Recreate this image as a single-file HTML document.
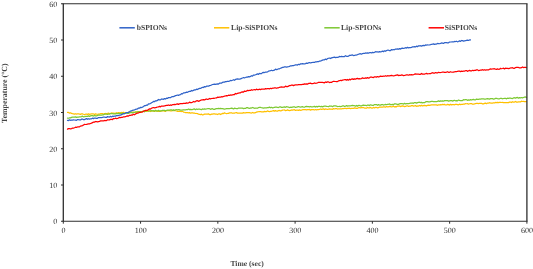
<!DOCTYPE html>
<html><head><meta charset="utf-8"><title>Temperature vs Time</title>
<style>html,body{margin:0;padding:0;background:#fff}body{width:533px;height:269px;overflow:hidden}</style></head>
<body>
<svg width="533" height="269" viewBox="0 0 533 269" style="display:block">
<rect width="533" height="269" fill="#fff"/>
<polyline fill="none" stroke="#FFC000" stroke-width="1.25" stroke-linejoin="round" stroke-linecap="round" points="67.5,112.44 68.5,112.47 69.5,113.10 70.5,112.77 71.5,113.41 72.5,113.67 73.5,113.80 74.5,114.19 75.5,113.75 76.5,114.09 77.5,113.75 78.5,113.75 79.5,114.03 80.5,114.40 81.5,113.78 82.5,113.88 83.5,114.25 84.5,114.55 85.5,114.23 86.5,114.07 87.5,114.60 88.5,113.78 89.5,114.52 90.5,114.01 91.5,113.87 92.5,113.83 93.5,113.99 94.5,114.44 95.5,113.86 96.5,114.21 97.5,114.25 98.5,114.00 99.5,114.15 100.5,113.71 101.5,113.61 102.5,113.66 103.5,114.00 104.5,113.68 105.5,113.49 106.5,113.64 107.5,113.44 108.5,113.21 109.5,113.56 110.5,113.43 111.5,112.97 112.5,113.22 113.5,113.12 114.5,113.39 115.5,113.21 116.5,112.77 117.5,113.35 118.5,112.54 119.5,112.77 120.5,113.03 121.5,112.45 122.5,112.71 123.5,112.25 124.5,112.75 125.5,112.77 126.5,112.53 127.5,112.74 128.5,112.17 129.5,112.45 130.5,112.31 131.5,112.25 132.5,112.09 133.5,112.38 134.5,112.43 135.5,111.94 136.5,112.05 137.5,111.45 138.5,111.96 139.5,111.85 140.5,112.09 141.5,111.88 142.5,111.36 143.5,111.42 144.5,111.64 145.5,111.02 146.5,111.38 147.5,111.08 148.5,111.00 149.5,110.91 150.5,111.51 151.5,110.90 152.5,110.97 153.5,111.08 154.5,111.48 155.5,110.74 156.5,111.05 157.5,111.11 158.5,111.39 159.5,111.30 160.5,111.32 161.5,110.76 162.5,110.86 163.5,110.78 164.5,111.24 165.5,111.30 166.5,110.56 167.5,110.58 168.5,110.62 169.5,110.61 170.5,110.83 171.5,110.91 172.5,110.61 173.5,110.37 174.5,110.73 175.5,110.73 176.5,110.99 177.5,111.43 178.5,111.28 179.5,111.21 180.5,111.39 181.5,111.53 182.5,111.15 183.5,112.13 184.5,112.25 185.5,112.55 186.5,112.70 187.5,112.56 188.5,112.79 189.5,112.64 190.5,113.22 191.5,112.81 192.5,112.92 193.5,113.15 194.5,113.21 195.5,113.50 196.5,113.49 197.5,113.69 198.5,114.07 199.5,114.27 200.5,114.54 201.5,114.18 202.5,114.89 203.5,114.60 204.5,114.12 205.5,114.16 206.5,114.19 207.5,114.15 208.5,113.88 209.5,114.52 210.5,114.66 211.5,114.19 212.5,114.21 213.5,113.86 214.5,113.88 215.5,114.10 216.5,114.04 217.5,114.55 218.5,113.95 219.5,113.84 220.5,114.58 221.5,113.98 222.5,113.41 223.5,113.54 224.5,112.85 225.5,113.25 226.5,113.62 227.5,113.49 228.5,113.31 229.5,112.89 230.5,112.96 231.5,112.75 232.5,113.26 233.5,113.01 234.5,113.19 235.5,112.75 236.5,112.62 237.5,113.12 238.5,113.24 239.5,113.08 240.5,113.05 241.5,113.11 242.5,113.09 243.5,112.68 244.5,112.99 245.5,112.89 246.5,112.65 247.5,112.59 248.5,112.72 249.5,112.61 250.5,112.90 251.5,113.05 252.5,112.49 253.5,112.84 254.5,112.79 255.5,112.66 256.5,112.03 257.5,111.81 258.5,111.72 259.5,111.60 260.5,111.51 261.5,111.79 262.5,111.94 263.5,111.83 264.5,111.44 265.5,111.54 266.5,111.61 267.5,110.91 268.5,111.37 269.5,111.53 270.5,111.36 271.5,111.27 272.5,110.97 273.5,110.64 274.5,111.13 275.5,110.66 276.5,111.02 277.5,111.12 278.5,110.54 279.5,110.48 280.5,110.92 281.5,110.66 282.5,110.10 283.5,110.00 284.5,109.96 285.5,110.60 286.5,110.50 287.5,109.88 288.5,110.48 289.5,110.60 290.5,110.29 291.5,109.99 292.5,110.15 293.5,109.76 294.5,109.64 295.5,110.48 296.5,110.17 297.5,110.04 298.5,110.39 299.5,109.92 300.5,110.30 301.5,110.24 302.5,109.67 303.5,109.69 304.5,109.70 305.5,109.64 306.5,109.93 307.5,109.62 308.5,109.73 309.5,109.44 310.5,110.11 311.5,109.58 312.5,109.64 313.5,109.72 314.5,109.98 315.5,109.51 316.5,109.93 317.5,109.52 318.5,109.52 319.5,109.48 320.5,108.99 321.5,109.34 322.5,109.08 323.5,108.88 324.5,109.57 325.5,108.97 326.5,109.21 327.5,109.41 328.5,109.22 329.5,108.98 330.5,109.12 331.5,109.11 332.5,109.27 333.5,108.61 334.5,108.98 335.5,108.65 336.5,108.63 337.5,109.03 338.5,108.75 339.5,108.75 340.5,108.89 341.5,108.98 342.5,108.51 343.5,108.62 344.5,108.48 345.5,108.44 346.5,108.55 347.5,108.29 348.5,108.32 349.5,108.23 350.5,108.60 351.5,108.34 352.5,108.45 353.5,108.49 354.5,107.85 355.5,108.10 356.5,108.42 357.5,108.31 358.5,107.66 359.5,107.62 360.5,107.89 361.5,107.54 362.5,107.67 363.5,107.50 364.5,108.01 365.5,108.09 366.5,108.18 367.5,107.49 368.5,107.97 369.5,107.90 370.5,107.41 371.5,108.06 372.5,108.12 373.5,107.39 374.5,107.99 375.5,107.44 376.5,107.47 377.5,107.87 378.5,107.67 379.5,107.01 380.5,107.20 381.5,107.22 382.5,107.01 383.5,106.83 384.5,106.88 385.5,107.19 386.5,106.51 387.5,106.93 388.5,106.78 389.5,106.34 390.5,106.57 391.5,106.78 392.5,106.63 393.5,106.17 394.5,106.94 395.5,106.73 396.5,106.86 397.5,106.06 398.5,106.17 399.5,105.94 400.5,106.58 401.5,106.10 402.5,105.94 403.5,106.18 404.5,106.59 405.5,106.48 406.5,105.95 407.5,105.83 408.5,106.49 409.5,106.15 410.5,106.24 411.5,105.66 412.5,105.61 413.5,106.15 414.5,105.88 415.5,105.54 416.5,106.29 417.5,105.99 418.5,106.10 419.5,105.42 420.5,106.07 421.5,105.32 422.5,105.99 423.5,105.59 424.5,105.44 425.5,105.59 426.5,105.89 427.5,105.26 428.5,105.09 429.5,105.41 430.5,105.11 431.5,104.95 432.5,104.96 433.5,104.82 434.5,104.91 435.5,104.97 436.5,104.92 437.5,105.29 438.5,104.83 439.5,104.98 440.5,104.65 441.5,104.77 442.5,104.44 443.5,104.62 444.5,104.38 445.5,104.99 446.5,104.80 447.5,104.44 448.5,104.66 449.5,105.05 450.5,104.27 451.5,104.88 452.5,104.50 453.5,104.52 454.5,104.80 455.5,104.37 456.5,104.44 457.5,104.57 458.5,104.80 459.5,104.20 460.5,104.61 461.5,104.46 462.5,104.37 463.5,104.12 464.5,104.03 465.5,103.72 466.5,103.75 467.5,103.66 468.5,104.22 469.5,103.75 470.5,103.63 471.5,103.52 472.5,104.16 473.5,104.14 474.5,103.92 475.5,103.53 476.5,103.46 477.5,103.47 478.5,103.58 479.5,103.26 480.5,103.48 481.5,103.28 482.5,103.87 483.5,103.84 484.5,103.41 485.5,103.10 486.5,103.71 487.5,103.08 488.5,103.08 489.5,102.72 490.5,103.02 491.5,103.06 492.5,103.05 493.5,102.74 494.5,102.97 495.5,102.48 496.5,102.67 497.5,102.47 498.5,102.71 499.5,102.35 500.5,102.29 501.5,102.50 502.5,102.40 503.5,102.67 504.5,102.56 505.5,102.70 506.5,102.56 507.5,102.55 508.5,102.64 509.5,102.14 510.5,102.03 511.5,102.56 512.5,101.75 513.5,102.21 514.5,102.08 515.5,101.48 516.5,102.14 517.5,102.13 518.5,101.83 519.5,101.87 520.5,101.88 521.5,101.22 522.5,101.50 523.5,101.43 524.5,101.67 525.5,101.58 526.5,101.54"/>
<polyline fill="none" stroke="#7DC832" stroke-width="1.25" stroke-linejoin="round" stroke-linecap="round" points="67.5,118.08 68.5,118.25 69.5,117.95 70.5,117.85 71.5,117.33 72.5,117.04 73.5,117.03 74.5,117.13 75.5,116.80 76.5,117.38 77.5,117.05 78.5,117.03 79.5,116.95 80.5,116.92 81.5,116.67 82.5,116.15 83.5,116.81 84.5,116.72 85.5,116.44 86.5,116.42 87.5,116.48 88.5,115.89 89.5,116.44 90.5,115.92 91.5,115.66 92.5,115.72 93.5,116.03 94.5,115.45 95.5,115.83 96.5,115.93 97.5,115.39 98.5,115.17 99.5,115.14 100.5,115.21 101.5,115.16 102.5,114.91 103.5,114.81 104.5,114.18 105.5,114.14 106.5,114.14 107.5,114.49 108.5,114.00 109.5,114.15 110.5,113.56 111.5,113.51 112.5,113.60 113.5,113.92 114.5,113.90 115.5,113.84 116.5,113.45 117.5,113.61 118.5,113.52 119.5,113.48 120.5,113.11 121.5,113.74 122.5,113.05 123.5,113.69 124.5,113.59 125.5,112.69 126.5,113.03 127.5,113.29 128.5,113.34 129.5,112.79 130.5,112.55 131.5,112.42 132.5,113.00 133.5,112.26 134.5,112.51 135.5,112.00 136.5,112.18 137.5,112.41 138.5,111.51 139.5,111.97 140.5,111.53 141.5,111.74 142.5,111.53 143.5,111.06 144.5,111.62 145.5,111.20 146.5,110.74 147.5,110.68 148.5,111.07 149.5,110.99 150.5,110.81 151.5,110.62 152.5,110.76 153.5,110.70 154.5,111.14 155.5,110.35 156.5,110.98 157.5,111.03 158.5,110.35 159.5,111.04 160.5,110.81 161.5,110.94 162.5,110.36 163.5,110.40 164.5,110.37 165.5,110.87 166.5,110.46 167.5,110.21 168.5,110.23 169.5,110.04 170.5,109.79 171.5,109.80 172.5,110.41 173.5,109.87 174.5,110.41 175.5,109.75 176.5,109.72 177.5,109.90 178.5,109.57 179.5,109.69 180.5,110.17 181.5,110.06 182.5,109.95 183.5,109.74 184.5,109.95 185.5,109.93 186.5,109.54 187.5,109.68 188.5,109.06 189.5,109.65 190.5,109.38 191.5,109.64 192.5,109.52 193.5,109.18 194.5,108.95 195.5,109.72 196.5,108.99 197.5,109.28 198.5,109.14 199.5,109.07 200.5,109.44 201.5,109.63 202.5,108.95 203.5,109.28 204.5,108.94 205.5,109.14 206.5,108.97 207.5,108.74 208.5,108.70 209.5,108.72 210.5,109.34 211.5,108.95 212.5,108.68 213.5,109.28 214.5,109.35 215.5,108.84 216.5,108.54 217.5,108.57 218.5,108.46 219.5,108.67 220.5,108.42 221.5,108.54 222.5,108.54 223.5,108.80 224.5,109.07 225.5,108.93 226.5,108.61 227.5,108.59 228.5,108.67 229.5,108.52 230.5,108.47 231.5,108.20 232.5,108.36 233.5,108.95 234.5,108.15 235.5,108.46 236.5,108.53 237.5,108.71 238.5,108.09 239.5,108.10 240.5,108.05 241.5,108.15 242.5,108.15 243.5,108.59 244.5,108.47 245.5,108.46 246.5,107.67 247.5,107.66 248.5,108.24 249.5,108.38 250.5,107.98 251.5,108.05 252.5,107.50 253.5,107.83 254.5,108.29 255.5,108.17 256.5,108.17 257.5,108.25 258.5,107.57 259.5,107.42 260.5,107.44 261.5,107.75 262.5,107.86 263.5,108.08 264.5,107.86 265.5,107.77 266.5,107.85 267.5,107.55 268.5,107.61 269.5,107.13 270.5,107.78 271.5,107.26 272.5,107.86 273.5,107.59 274.5,107.26 275.5,107.08 276.5,107.17 277.5,107.49 278.5,107.52 279.5,106.97 280.5,106.91 281.5,107.30 282.5,107.33 283.5,107.13 284.5,106.96 285.5,107.28 286.5,106.73 287.5,106.98 288.5,107.10 289.5,107.53 290.5,107.23 291.5,107.43 292.5,107.05 293.5,106.81 294.5,106.80 295.5,107.43 296.5,107.18 297.5,106.81 298.5,106.53 299.5,106.94 300.5,107.08 301.5,106.84 302.5,106.67 303.5,107.02 304.5,107.24 305.5,106.59 306.5,106.40 307.5,106.66 308.5,106.71 309.5,106.92 310.5,106.46 311.5,106.98 312.5,106.91 313.5,106.67 314.5,106.38 315.5,107.05 316.5,106.43 317.5,106.87 318.5,106.32 319.5,106.28 320.5,106.75 321.5,106.31 322.5,106.88 323.5,106.44 324.5,106.14 325.5,106.15 326.5,106.31 327.5,106.51 328.5,106.74 329.5,106.00 330.5,106.20 331.5,106.02 332.5,106.68 333.5,105.92 334.5,105.82 335.5,105.81 336.5,106.09 337.5,106.53 338.5,106.50 339.5,106.34 340.5,106.56 341.5,106.49 342.5,105.93 343.5,105.78 344.5,106.44 345.5,106.25 346.5,105.59 347.5,106.14 348.5,105.86 349.5,105.84 350.5,105.79 351.5,105.62 352.5,105.45 353.5,105.67 354.5,105.69 355.5,106.19 356.5,105.40 357.5,106.12 358.5,105.40 359.5,105.49 360.5,105.87 361.5,105.83 362.5,105.44 363.5,105.06 364.5,105.40 365.5,105.27 366.5,105.72 367.5,105.02 368.5,105.14 369.5,105.58 370.5,104.76 371.5,105.06 372.5,105.38 373.5,105.30 374.5,104.61 375.5,104.56 376.5,104.55 377.5,105.28 378.5,104.64 379.5,105.04 380.5,105.14 381.5,104.60 382.5,104.50 383.5,105.07 384.5,104.73 385.5,104.37 386.5,104.73 387.5,104.33 388.5,104.26 389.5,103.97 390.5,104.61 391.5,104.71 392.5,104.42 393.5,104.66 394.5,103.79 395.5,103.93 396.5,104.08 397.5,104.46 398.5,104.39 399.5,103.82 400.5,103.64 401.5,103.73 402.5,103.73 403.5,104.06 404.5,103.33 405.5,103.82 406.5,103.70 407.5,103.72 408.5,103.61 409.5,103.40 410.5,103.08 411.5,103.02 412.5,102.99 413.5,103.31 414.5,102.61 415.5,102.66 416.5,103.10 417.5,102.58 418.5,102.33 419.5,102.22 420.5,102.60 421.5,102.32 422.5,102.82 423.5,102.65 424.5,102.66 425.5,101.93 426.5,101.68 427.5,101.61 428.5,101.89 429.5,101.99 430.5,101.67 431.5,101.40 432.5,101.48 433.5,101.58 434.5,101.54 435.5,101.52 436.5,101.57 437.5,101.37 438.5,100.84 439.5,101.45 440.5,100.91 441.5,101.12 442.5,100.91 443.5,101.19 444.5,100.67 445.5,100.67 446.5,100.63 447.5,100.51 448.5,101.13 449.5,100.81 450.5,100.54 451.5,100.57 452.5,101.06 453.5,100.59 454.5,100.30 455.5,100.78 456.5,100.60 457.5,100.86 458.5,100.02 459.5,100.30 460.5,100.55 461.5,100.52 462.5,100.53 463.5,99.69 464.5,99.87 465.5,99.66 466.5,99.67 467.5,100.32 468.5,99.92 469.5,100.18 470.5,99.62 471.5,100.01 472.5,99.58 473.5,99.36 474.5,99.77 475.5,99.87 476.5,99.06 477.5,99.45 478.5,99.42 479.5,99.00 480.5,99.09 481.5,98.85 482.5,98.88 483.5,98.90 484.5,99.19 485.5,99.21 486.5,98.78 487.5,98.58 488.5,98.83 489.5,99.12 490.5,98.65 491.5,98.74 492.5,98.62 493.5,99.12 494.5,98.87 495.5,98.41 496.5,98.42 497.5,98.66 498.5,98.77 499.5,98.82 500.5,98.30 501.5,98.34 502.5,98.79 503.5,98.50 504.5,98.33 505.5,98.30 506.5,98.83 507.5,98.20 508.5,98.37 509.5,98.13 510.5,98.13 511.5,98.48 512.5,98.55 513.5,97.92 514.5,97.72 515.5,98.14 516.5,97.62 517.5,97.39 518.5,98.14 519.5,97.66 520.5,97.96 521.5,97.53 522.5,97.91 523.5,97.48 524.5,97.15 525.5,96.97 526.5,97.39"/>
<polyline fill="none" stroke="#2F62C8" stroke-width="1.25" stroke-linejoin="round" stroke-linecap="round" points="67.5,120.33 68.5,120.57 69.5,119.83 70.5,120.31 71.5,120.08 72.5,120.20 73.5,119.88 74.5,120.00 75.5,120.15 76.5,120.38 77.5,119.51 78.5,119.72 79.5,119.87 80.5,119.93 81.5,119.16 82.5,119.01 83.5,119.66 84.5,119.60 85.5,119.07 86.5,118.60 87.5,119.30 88.5,118.73 89.5,119.11 90.5,118.76 91.5,118.85 92.5,118.16 93.5,118.63 94.5,118.03 95.5,118.10 96.5,118.41 97.5,118.30 98.5,117.61 99.5,117.53 100.5,117.59 101.5,117.59 102.5,117.36 103.5,117.02 104.5,117.03 105.5,117.36 106.5,117.42 107.5,116.56 108.5,116.93 109.5,117.02 110.5,116.28 111.5,116.91 112.5,116.17 113.5,116.42 114.5,116.20 115.5,116.10 116.5,115.63 117.5,115.55 118.5,115.52 119.5,115.21 120.5,115.15 121.5,114.60 122.5,114.23 123.5,113.50 124.5,113.68 125.5,113.21 126.5,112.62 127.5,112.74 128.5,112.37 129.5,111.69 130.5,111.05 131.5,110.93 132.5,110.27 133.5,110.02 134.5,110.00 135.5,109.31 136.5,109.23 137.5,108.90 138.5,108.08 139.5,108.23 140.5,107.34 141.5,107.53 142.5,107.18 143.5,106.54 144.5,105.73 145.5,105.74 146.5,105.11 147.5,105.09 148.5,103.82 149.5,103.93 150.5,103.52 151.5,102.75 152.5,102.28 153.5,101.34 154.5,101.66 155.5,100.83 156.5,100.87 157.5,100.44 158.5,99.46 159.5,99.90 160.5,99.90 161.5,99.00 162.5,99.13 163.5,99.37 164.5,98.61 165.5,99.02 166.5,98.20 167.5,98.43 168.5,97.56 169.5,97.63 170.5,97.74 171.5,96.84 172.5,96.63 173.5,96.59 174.5,96.17 175.5,95.61 176.5,95.40 177.5,95.03 178.5,95.38 179.5,94.81 180.5,94.66 181.5,93.66 182.5,93.87 183.5,92.92 184.5,92.95 185.5,92.70 186.5,92.12 187.5,92.29 188.5,91.72 189.5,91.45 190.5,91.43 191.5,90.45 192.5,90.96 193.5,90.34 194.5,89.84 195.5,89.92 196.5,89.15 197.5,89.51 198.5,88.84 199.5,88.35 200.5,88.42 201.5,87.83 202.5,87.29 203.5,87.50 204.5,86.58 205.5,86.97 206.5,86.17 207.5,86.21 208.5,86.23 209.5,85.63 210.5,85.50 211.5,84.98 212.5,84.50 213.5,84.32 214.5,84.22 215.5,84.44 216.5,84.07 217.5,83.94 218.5,84.08 219.5,83.19 220.5,83.05 221.5,83.18 222.5,82.35 223.5,82.08 224.5,82.14 225.5,81.66 226.5,81.63 227.5,81.25 228.5,81.32 229.5,81.07 230.5,80.46 231.5,80.59 232.5,80.25 233.5,79.74 234.5,80.26 235.5,79.43 236.5,79.14 237.5,78.88 238.5,79.17 239.5,79.17 240.5,78.89 241.5,78.34 242.5,78.01 243.5,77.54 244.5,77.86 245.5,77.53 246.5,77.09 247.5,77.11 248.5,76.68 249.5,76.87 250.5,76.44 251.5,75.75 252.5,76.06 253.5,75.02 254.5,75.18 255.5,74.79 256.5,74.36 257.5,73.93 258.5,74.30 259.5,73.34 260.5,73.55 261.5,73.62 262.5,72.63 263.5,72.42 264.5,72.53 265.5,72.19 266.5,72.05 267.5,71.95 268.5,71.12 269.5,70.98 270.5,70.72 271.5,70.23 272.5,70.73 273.5,70.38 274.5,70.06 275.5,69.17 276.5,69.66 277.5,69.31 278.5,68.80 279.5,68.79 280.5,68.27 281.5,67.81 282.5,67.44 283.5,67.30 284.5,66.86 285.5,66.90 286.5,67.07 287.5,66.82 288.5,66.75 289.5,66.43 290.5,65.83 291.5,65.88 292.5,65.58 293.5,65.69 294.5,65.25 295.5,64.81 296.5,64.96 297.5,65.09 298.5,64.26 299.5,64.70 300.5,63.76 301.5,63.83 302.5,63.65 303.5,63.95 304.5,63.97 305.5,63.63 306.5,63.10 307.5,63.44 308.5,62.78 309.5,62.54 310.5,62.98 311.5,62.57 312.5,62.47 313.5,62.29 314.5,62.41 315.5,61.79 316.5,61.96 317.5,61.68 318.5,61.66 319.5,61.05 320.5,61.03 321.5,60.63 322.5,60.12 323.5,59.76 324.5,59.86 325.5,59.10 326.5,59.58 327.5,58.62 328.5,58.24 329.5,58.04 330.5,58.56 331.5,57.88 332.5,57.55 333.5,57.29 334.5,57.15 335.5,57.59 336.5,57.38 337.5,57.29 338.5,57.17 339.5,56.42 340.5,56.74 341.5,56.39 342.5,56.69 343.5,56.59 344.5,56.55 345.5,55.71 346.5,56.33 347.5,56.26 348.5,56.19 349.5,55.33 350.5,55.32 351.5,55.13 352.5,54.96 353.5,55.54 354.5,55.34 355.5,55.02 356.5,55.03 357.5,54.69 358.5,54.22 359.5,53.89 360.5,53.73 361.5,54.16 362.5,53.53 363.5,53.49 364.5,53.45 365.5,52.94 366.5,53.02 367.5,52.90 368.5,53.15 369.5,52.70 370.5,52.52 371.5,52.96 372.5,52.40 373.5,52.62 374.5,52.31 375.5,51.69 376.5,51.93 377.5,51.86 378.5,52.06 379.5,51.58 380.5,51.81 381.5,51.56 382.5,51.17 383.5,51.66 384.5,50.81 385.5,51.30 386.5,50.55 387.5,50.22 388.5,50.23 389.5,50.57 390.5,50.59 391.5,49.55 392.5,49.82 393.5,49.65 394.5,49.75 395.5,49.05 396.5,49.20 397.5,48.94 398.5,49.25 399.5,48.61 400.5,49.09 401.5,48.37 402.5,48.18 403.5,48.49 404.5,48.18 405.5,47.70 406.5,48.04 407.5,47.40 408.5,47.89 409.5,47.67 410.5,47.61 411.5,47.32 412.5,46.93 413.5,46.83 414.5,46.68 415.5,46.99 416.5,46.12 417.5,46.70 418.5,45.78 419.5,45.80 420.5,45.71 421.5,46.14 422.5,45.64 423.5,45.38 424.5,45.69 425.5,44.96 426.5,45.03 427.5,44.95 428.5,45.00 429.5,44.88 430.5,44.67 431.5,44.28 432.5,44.15 433.5,43.88 434.5,44.38 435.5,44.10 436.5,44.06 437.5,43.43 438.5,43.55 439.5,43.74 440.5,43.45 441.5,42.94 442.5,43.13 443.5,43.41 444.5,42.72 445.5,42.57 446.5,42.56 447.5,42.82 448.5,42.83 449.5,42.11 450.5,42.00 451.5,41.98 452.5,41.91 453.5,41.95 454.5,41.49 455.5,41.51 456.5,41.25 457.5,41.82 458.5,41.47 459.5,40.77 460.5,41.41 461.5,40.50 462.5,40.62 463.5,41.09 464.5,40.86 465.5,40.74 466.5,40.41 467.5,40.14 468.5,40.47 469.5,39.93 470.5,39.96"/>
<polyline fill="none" stroke="#FF0000" stroke-width="1.25" stroke-linejoin="round" stroke-linecap="round" points="67.5,129.10 68.5,128.58 69.5,128.71 70.5,128.86 71.5,128.57 72.5,128.20 73.5,128.12 74.5,127.77 75.5,127.24 76.5,127.39 77.5,126.95 78.5,126.98 79.5,126.87 80.5,126.07 81.5,125.83 82.5,125.62 83.5,124.96 84.5,124.42 85.5,124.50 86.5,124.46 87.5,124.19 88.5,123.95 89.5,123.91 90.5,123.49 91.5,123.13 92.5,122.63 93.5,122.17 94.5,122.12 95.5,121.50 96.5,121.64 97.5,121.83 98.5,121.62 99.5,121.40 100.5,120.92 101.5,120.93 102.5,120.82 103.5,120.82 104.5,120.49 105.5,120.56 106.5,120.61 107.5,119.75 108.5,119.99 109.5,119.91 110.5,119.37 111.5,119.28 112.5,119.53 113.5,118.48 114.5,118.74 115.5,118.19 116.5,118.55 117.5,118.50 118.5,117.92 119.5,117.34 120.5,117.56 121.5,117.31 122.5,117.26 123.5,116.86 124.5,116.76 125.5,116.71 126.5,116.22 127.5,115.91 128.5,116.16 129.5,115.26 130.5,115.46 131.5,114.96 132.5,115.07 133.5,114.26 134.5,114.80 135.5,113.95 136.5,113.35 137.5,113.21 138.5,112.99 139.5,112.31 140.5,112.34 141.5,112.01 142.5,111.89 143.5,111.21 144.5,110.77 145.5,110.36 146.5,110.46 147.5,110.28 148.5,109.54 149.5,108.90 150.5,109.05 151.5,108.32 152.5,107.79 153.5,107.51 154.5,107.89 155.5,107.72 156.5,107.36 157.5,107.00 158.5,106.88 159.5,106.38 160.5,106.84 161.5,106.09 162.5,106.14 163.5,106.10 164.5,105.97 165.5,105.55 166.5,105.30 167.5,105.43 168.5,104.95 169.5,105.49 170.5,104.96 171.5,105.31 172.5,104.69 173.5,104.69 174.5,104.48 175.5,104.51 176.5,104.15 177.5,103.85 178.5,104.35 179.5,103.82 180.5,103.64 181.5,103.55 182.5,103.57 183.5,103.38 184.5,103.43 185.5,103.31 186.5,102.89 187.5,103.23 188.5,102.99 189.5,102.10 190.5,102.63 191.5,102.53 192.5,102.24 193.5,101.49 194.5,101.94 195.5,101.60 196.5,100.87 197.5,100.69 198.5,101.34 199.5,100.87 200.5,100.30 201.5,99.97 202.5,99.80 203.5,99.68 204.5,99.97 205.5,99.38 206.5,99.00 207.5,99.48 208.5,99.17 209.5,98.44 210.5,98.92 211.5,98.50 212.5,98.49 213.5,98.23 214.5,98.26 215.5,98.00 216.5,97.88 217.5,97.14 218.5,97.42 219.5,97.11 220.5,97.14 221.5,96.70 222.5,96.93 223.5,96.47 224.5,96.05 225.5,95.85 226.5,95.60 227.5,95.76 228.5,95.20 229.5,95.40 230.5,94.95 231.5,95.08 232.5,94.80 233.5,94.55 234.5,94.55 235.5,93.49 236.5,93.95 237.5,93.32 238.5,93.11 239.5,92.92 240.5,92.78 241.5,92.07 242.5,91.82 243.5,92.08 244.5,91.05 245.5,91.33 246.5,91.10 247.5,90.32 248.5,90.62 249.5,90.46 250.5,90.45 251.5,89.71 252.5,90.24 253.5,89.75 254.5,89.66 255.5,89.97 256.5,89.13 257.5,89.69 258.5,89.54 259.5,89.22 260.5,89.63 261.5,89.12 262.5,89.15 263.5,89.11 264.5,89.24 265.5,88.65 266.5,88.77 267.5,88.67 268.5,88.70 269.5,88.86 270.5,88.29 271.5,88.68 272.5,88.21 273.5,88.22 274.5,87.89 275.5,87.97 276.5,88.25 277.5,87.83 278.5,87.82 279.5,87.27 280.5,87.13 281.5,86.98 282.5,87.10 283.5,87.01 284.5,87.01 285.5,86.19 286.5,86.63 287.5,86.60 288.5,86.12 289.5,85.50 290.5,85.55 291.5,85.11 292.5,85.10 293.5,85.58 294.5,85.12 295.5,84.99 296.5,84.95 297.5,84.99 298.5,84.65 299.5,84.58 300.5,84.52 301.5,84.51 302.5,84.34 303.5,84.35 304.5,83.85 305.5,84.19 306.5,83.93 307.5,84.13 308.5,83.42 309.5,83.38 310.5,83.13 311.5,83.68 312.5,83.69 313.5,83.34 314.5,82.96 315.5,83.26 316.5,83.11 317.5,82.79 318.5,82.40 319.5,82.38 320.5,82.46 321.5,82.34 322.5,82.41 323.5,82.57 324.5,82.80 325.5,81.98 326.5,82.41 327.5,81.90 328.5,81.95 329.5,82.54 330.5,82.25 331.5,82.40 332.5,81.83 333.5,81.28 334.5,81.47 335.5,81.50 336.5,81.66 337.5,81.54 338.5,80.93 339.5,80.72 340.5,80.29 341.5,80.63 342.5,80.13 343.5,79.97 344.5,79.74 345.5,79.62 346.5,80.12 347.5,79.50 348.5,80.15 349.5,79.25 350.5,79.84 351.5,79.07 352.5,78.86 353.5,79.38 354.5,78.85 355.5,79.18 356.5,78.59 357.5,78.36 358.5,78.90 359.5,78.74 360.5,78.76 361.5,78.55 362.5,77.88 363.5,78.28 364.5,78.26 365.5,77.94 366.5,78.28 367.5,77.58 368.5,78.13 369.5,77.82 370.5,77.09 371.5,77.00 372.5,77.49 373.5,77.53 374.5,76.76 375.5,76.86 376.5,77.13 377.5,76.52 378.5,77.04 379.5,76.59 380.5,76.10 381.5,76.28 382.5,76.36 383.5,76.13 384.5,76.25 385.5,75.69 386.5,76.20 387.5,75.73 388.5,75.90 389.5,75.81 390.5,75.54 391.5,75.43 392.5,75.71 393.5,75.77 394.5,75.55 395.5,75.30 396.5,75.04 397.5,74.81 398.5,75.61 399.5,75.35 400.5,75.45 401.5,74.98 402.5,75.21 403.5,75.53 404.5,75.38 405.5,75.16 406.5,74.86 407.5,74.89 408.5,75.22 409.5,74.68 410.5,74.88 411.5,74.73 412.5,74.91 413.5,74.75 414.5,74.20 415.5,73.87 416.5,74.02 417.5,74.09 418.5,74.17 419.5,74.32 420.5,74.32 421.5,73.49 422.5,74.14 423.5,74.06 424.5,74.05 425.5,73.72 426.5,73.39 427.5,73.85 428.5,73.75 429.5,73.55 430.5,73.66 431.5,73.05 432.5,72.72 433.5,73.04 434.5,73.16 435.5,72.53 436.5,72.93 437.5,72.99 438.5,72.27 439.5,72.50 440.5,72.50 441.5,72.27 442.5,72.00 443.5,72.01 444.5,72.42 445.5,72.42 446.5,72.09 447.5,71.72 448.5,72.33 449.5,72.26 450.5,71.74 451.5,72.02 452.5,72.24 453.5,72.17 454.5,71.78 455.5,71.67 456.5,71.71 457.5,71.29 458.5,71.23 459.5,71.16 460.5,71.56 461.5,71.20 462.5,71.31 463.5,71.10 464.5,71.14 465.5,70.74 466.5,70.58 467.5,71.37 468.5,70.74 469.5,70.44 470.5,70.84 471.5,70.92 472.5,70.28 473.5,70.61 474.5,70.32 475.5,70.41 476.5,69.89 477.5,69.84 478.5,70.63 479.5,70.45 480.5,70.04 481.5,70.05 482.5,69.71 483.5,70.11 484.5,69.72 485.5,70.13 486.5,69.90 487.5,69.88 488.5,69.94 489.5,69.24 490.5,68.97 491.5,69.05 492.5,68.97 493.5,68.82 494.5,68.72 495.5,69.11 496.5,69.32 497.5,68.89 498.5,69.26 499.5,69.16 500.5,68.33 501.5,68.74 502.5,68.50 503.5,68.18 504.5,68.88 505.5,68.18 506.5,68.40 507.5,68.40 508.5,68.62 509.5,68.30 510.5,67.99 511.5,67.98 512.5,67.66 513.5,68.32 514.5,68.28 515.5,67.53 516.5,67.30 517.5,67.43 518.5,67.46 519.5,67.89 520.5,67.83 521.5,67.71 522.5,66.94 523.5,67.54 524.5,67.41 525.5,67.29 526.5,67.53"/>
<g stroke="#2e2e2e" fill="none">
<line x1="62.70" y1="3.75" x2="527.50" y2="3.75" stroke-width="1.2"/>
<line x1="62.70" y1="221.25" x2="527.50" y2="221.25" stroke-width="1.2"/>
<line x1="63.30" y1="3.75" x2="63.30" y2="221.25" stroke-width="1.3"/>
<line x1="526.90" y1="3.75" x2="526.90" y2="221.25" stroke-width="1.3"/>
</g>
<g stroke="#2e2e2e" stroke-width="1" fill="none">
<line x1="61.0" y1="221.25" x2="63.3" y2="221.25"/>
<line x1="63.30" y1="221.2" x2="63.30" y2="223.7"/>
<line x1="61.0" y1="185.00" x2="63.3" y2="185.00"/>
<line x1="140.57" y1="221.2" x2="140.57" y2="223.7"/>
<line x1="61.0" y1="148.75" x2="63.3" y2="148.75"/>
<line x1="217.83" y1="221.2" x2="217.83" y2="223.7"/>
<line x1="61.0" y1="112.50" x2="63.3" y2="112.50"/>
<line x1="295.10" y1="221.2" x2="295.10" y2="223.7"/>
<line x1="61.0" y1="76.25" x2="63.3" y2="76.25"/>
<line x1="372.37" y1="221.2" x2="372.37" y2="223.7"/>
<line x1="61.0" y1="40.00" x2="63.3" y2="40.00"/>
<line x1="449.63" y1="221.2" x2="449.63" y2="223.7"/>
<line x1="61.0" y1="3.75" x2="63.3" y2="3.75"/>
<line x1="526.90" y1="221.2" x2="526.90" y2="223.7"/>
</g>
<g font-family="'Liberation Serif', serif" font-weight="normal" font-size="8" fill="#333" text-rendering="geometricPrecision">
<text x="57.2" y="224.25" text-anchor="end">0</text>
<text x="63.40" y="232.6" text-anchor="middle">0</text>
<text x="57.2" y="188.00" text-anchor="end">10</text>
<text x="140.67" y="232.6" text-anchor="middle">100</text>
<text x="57.2" y="151.75" text-anchor="end">20</text>
<text x="217.93" y="232.6" text-anchor="middle">200</text>
<text x="57.2" y="115.50" text-anchor="end">30</text>
<text x="295.20" y="232.6" text-anchor="middle">300</text>
<text x="57.2" y="79.25" text-anchor="end">40</text>
<text x="372.47" y="232.6" text-anchor="middle">400</text>
<text x="57.2" y="43.00" text-anchor="end">50</text>
<text x="449.73" y="232.6" text-anchor="middle">500</text>
<text x="57.2" y="6.75" text-anchor="end">60</text>
<text x="527.00" y="232.6" text-anchor="middle">600</text>
</g>
<g font-family="'Liberation Serif', serif" font-weight="bold" font-size="7.6" fill="#444" text-rendering="geometricPrecision">
<text x="247.1" y="266.2" text-anchor="middle">Time (sec)</text>
<text transform="translate(7,93.2) rotate(-90)" text-anchor="middle" font-size="7.85">Temperature (°C)</text>
<line x1="119.4" y1="27.8" x2="134.8" y2="27.8" stroke="#2F62C8" stroke-width="1.5"/>
<text x="136.7" y="30.45">bSPIONs</text>
<line x1="214.0" y1="27.8" x2="229.3" y2="27.8" stroke="#FFC000" stroke-width="1.5"/>
<text x="231.1" y="30.45">Lip-SiSPIONs</text>
<line x1="324.3" y1="27.8" x2="339.7" y2="27.8" stroke="#7DC832" stroke-width="1.5"/>
<text x="341.0" y="30.45">Lip-SPIONs</text>
<line x1="428.6" y1="27.8" x2="444.0" y2="27.8" stroke="#FF0000" stroke-width="1.5"/>
<text x="444.8" y="30.45">SiSPIONs</text>
</g>
</svg>
</body></html>
